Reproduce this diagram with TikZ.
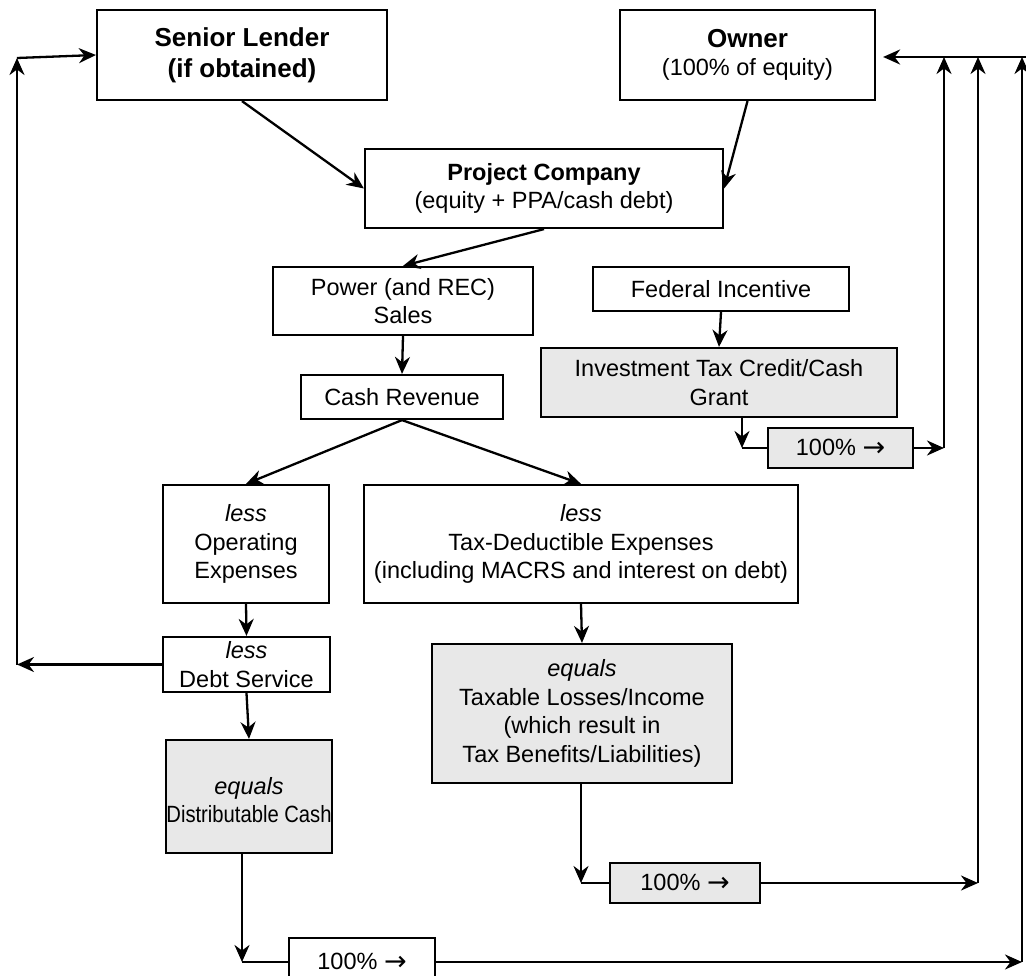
\documentclass[tikz,border=0pt]{standalone}
\usepackage{fontspec}
\setmainfont{Liberation Sans}
\newfontfamily\arrowfont{DejaVu Sans}
\usetikzlibrary{arrows.meta}
\definecolor{panelgray}{HTML}{E8E8E8}
\tikzset{
  box/.style={draw=black, line width=2.2pt, fill=white, align=center, inner sep=0pt,
    font=\fontsize{23.5}{28.5}\selectfont},
  shaded/.style={box, fill=panelgray},
  flow/.style={line width=2.3pt, -{Stealth[length=17pt,width=15pt,inset=5.5pt]}},
  link/.style={line width=2.3pt},
  titlefont/.style={font=\fontsize{26}{31}\selectfont},
}
\newcommand{\pct}{100\%\ \raisebox{-1pt}{\arrowfont\fontsize{27}{28}\selectfont →}}
\begin{document}
\begin{tikzpicture}[x=1pt, y=-1pt]
\useasboundingbox (0,0) rectangle (1026,976);

% boxes
\node[box, titlefont, minimum width=290pt, minimum height=90pt] (senior) at (242,55)
  {\textbf{Senior Lender}\\\textbf{(if obtained)}};
\node[box, minimum width=255pt, minimum height=90pt] (owner) at (747.5,55)
  {{\fontsize{26}{31}\selectfont\textbf{Owner}}\\(100\% of equity)};
\node[box, minimum width=358pt, minimum height=79pt] (pc) at (544,188.5)
  {\textbf{Project Company}\\(equity + PPA/cash debt)};
\node[box, minimum width=260pt, minimum height=68pt] (power) at (403,301)
  {Power (and REC)\\Sales};
\node[box, minimum width=256pt, minimum height=44pt] (fed) at (721,289)
  {Federal Incentive};
\node[box, minimum width=202pt, minimum height=44pt] (cash) at (402,397)
  {Cash Revenue};
\node[shaded, minimum width=356pt, minimum height=69pt] (itc) at (719,382.5)
  {Investment Tax Credit/Cash\\Grant};
\node[shaded, minimum width=145pt, minimum height=40pt] (pct1) at (840.5,448) {\pct};
\node[box, minimum width=166pt, minimum height=118pt] (opex) at (246,544)
  {\textit{less}\\Operating\\Expenses};
\node[box, minimum width=434pt, minimum height=118pt] (tax) at (581,544)
  {\textit{less}\\Tax-Deductible Expenses\\(including MACRS and interest on debt)};
\node[box, minimum width=167pt, minimum height=55pt] (debt) at (246.5,664.5)
  {\textit{less}\\Debt Service};
\node[shaded, minimum width=166pt, minimum height=113pt] (dist) at (249,796.5)
  {\\[-4pt]\textit{equals}\\\scalebox{0.86}[1]{Distributable Cash}};
\node[shaded, minimum width=300pt, minimum height=139pt] (taxable) at (582,713.5)
  {\textit{equals}\\Taxable Losses/Income\\(which result in\\Tax Benefits/Liabilities)};
\node[shaded, minimum width=150pt, minimum height=40pt] (pct2) at (685,883) {\pct};
\node[box, minimum width=146pt, minimum height=48pt] (pct3) at (362,962) {\pct};

% routing points
\coordinate (lbot) at (17,664.5);
\coordinate (ltop) at (17,58);
\coordinate (redge) at (1026,57);
\coordinate (c1) at (742,448);
\coordinate (r1) at (944,448);
\coordinate (t1) at (944,57);
\coordinate (c2) at (581,883);
\coordinate (r2) at (978,883);
\coordinate (t2) at (978,57);
\coordinate (c3) at (242,962);
\coordinate (r3) at (1022,962);
\coordinate (t3) at (1022,57);

% top flows
\draw[flow] (senior.south) -- (pc.west);
\draw[flow] (owner.south) -- (pc.east);
\draw[flow] (pc.south) -- (power.north);
\draw[flow] (power.south) -- (cash.north);
\draw[flow] (fed.south) -- (itc.north);
\draw[flow] (cash.south) -- (opex.north);
\draw[flow] (cash.south) -- (tax.north);
\draw[flow] (opex.south) -- (debt.north);
\draw[flow] (debt.south) -- (dist.north);
\draw[flow] (tax.south) -- (taxable.north);

% debt service back to lender
\draw[flow] (debt.west) -- (lbot);
\draw[flow] (lbot) -- (ltop);
\draw[flow] (ltop) -- (senior.west);

% returns to owner
\draw[flow] (redge) -- ([xshift=7pt]owner.east |- redge);
\draw[flow] (itc.south -| c1) -- (c1);
\draw[link] (c1) -- (pct1.west);
\draw[flow] (pct1.east) -- (r1);
\draw[flow] (r1) -- (t1);
\draw[flow] (taxable.south -| c2) -- (c2);
\draw[link] (c2) -- (pct2.west);
\draw[flow] (pct2.east) -- (r2);
\draw[flow] (r2) -- (t2);
\draw[flow] (dist.south -| c3) -- (c3);
\draw[link] (c3) -- (pct3.west);
\draw[flow] (pct3.east) -- (r3);
\draw[flow] (r3) -- (t3);
\end{tikzpicture}
\end{document}
